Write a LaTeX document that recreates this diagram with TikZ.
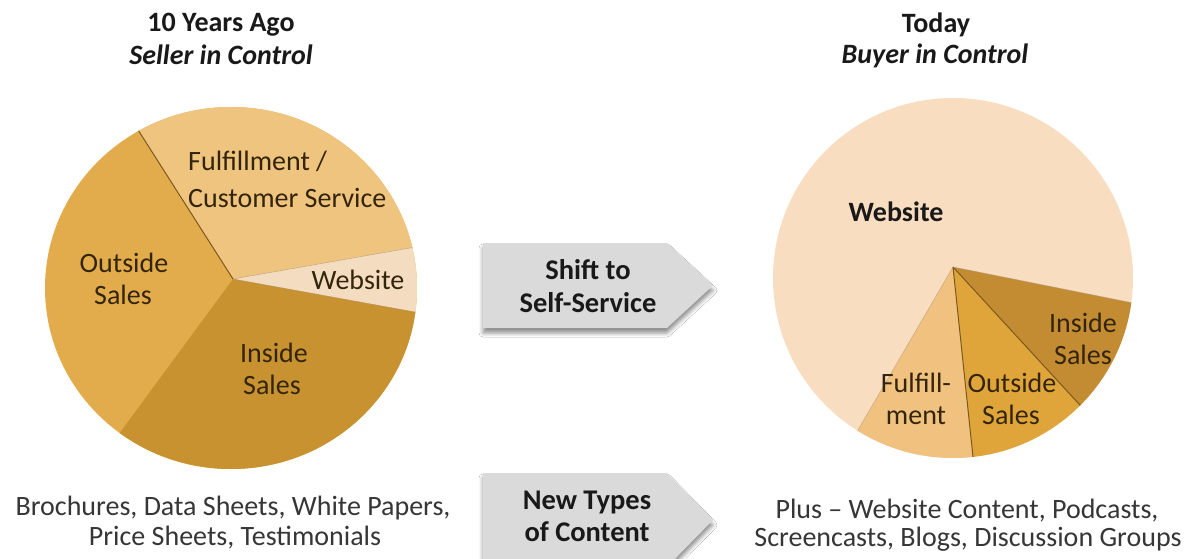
\documentclass[tikz,border=0pt]{standalone}
\usepackage{fontspec}
\setmainfont{Carlito}
\usetikzlibrary{shadows.blur}
\definecolor{lOut}{HTML}{E2AC4C}
\definecolor{lFul}{HTML}{EFC47F}
\definecolor{lWeb}{HTML}{F4DCC0}
\definecolor{lIns}{HTML}{C7922F}
\definecolor{rWeb}{HTML}{F9DDC0}
\definecolor{rFul}{HTML}{F0C17F}
\definecolor{rOut}{HTML}{E0A53A}
\definecolor{rIns}{HTML}{C38B32}
\definecolor{labelc}{HTML}{33250C}
\definecolor{bodyc}{HTML}{363636}
\definecolor{arrowgray}{HTML}{DADADA}
\definecolor{edgec}{HTML}{7A5A20}
\begin{document}
\begin{tikzpicture}[x=1pt,y=-1pt,
  txt/.style={inner sep=0pt, anchor=base, font=\fontsize{28}{32}\selectfont},
  titletxt/.style={txt, text=black!90, font=\fontsize{28}{32}\selectfont\bfseries},
  titleit/.style={titletxt, font=\fontsize{28}{32}\selectfont\bfseries\itshape},
  pielbl/.style={txt, text=labelc},
  bodytxt/.style={txt, text=bodyc},
  arrowtxt/.style={txt, text=black!90, font=\fontsize{28.5}{32}\selectfont\bfseries},
  arrowbox/.style={fill=arrowgray, blur shadow={shadow xshift=0pt, shadow yshift=-5pt, shadow blur radius=4pt, shadow opacity=45}},
  sliceedge/.style={draw=edgec, line width=1pt},
  softedge/.style={draw=edgec!60, line width=0.6pt, opacity=0.6}]
\useasboundingbox (0,0) rectangle (1188,559);
\fill[white] (0,0) rectangle (1188,559);

% titles
\node[titletxt] (t1) at (221,32) {10 Years Ago};
\node[titleit] (t2) at (221,65) {Seller in Control};
\node[titletxt] (t3) at (936,33) {Today};
\node[titleit] (t4) at (935,64) {Buyer in Control};

% left pie
\coordinate (LC) at (231,288);
\coordinate (LA) at (233,279);
\fill[lOut] (LC) ellipse [x radius=186, y radius=181];
\begin{scope}
  \clip (LC) ellipse [x radius=186, y radius=181];
  \fill[lFul] (LA) -- (-139,-305) -- (941,-305) -- (941,155) -- cycle;
  \fill[lWeb] (LA) -- (941,155) -- (961,411) -- cycle;
  \fill[lIns] (LA) -- (961,411) -- (961,900) -- (-191,900) -- (-191,855) -- cycle;
  \draw[sliceedge] (LA) -- (-139,-305);
  \draw[softedge] (LA) -- (941,155);
  \draw[softedge] (LA) -- (961,411);
\end{scope}
\node[pielbl, anchor=base west] (l1) at (188,170) {Fulfillment /};
\node[pielbl, anchor=base west] (l2) at (188,207) {Customer Service};
\node[pielbl] (l3) at (124,272) {Outside};
\node[pielbl] (l4) at (123,304) {Sales};
\node[pielbl] (l5) at (358,289) {Website};
\node[pielbl] (l6) at (274,362) {Inside};
\node[pielbl] (l7) at (272,394) {Sales};

% right pie
\coordinate (RC) at (953,278);
\coordinate (RA) at (953,267);
\fill[rWeb] (RC) ellipse [x radius=180, y radius=180];
\begin{scope}
  \clip (RC) ellipse [x radius=180, y radius=180];
  \fill[rFul] (RA) -- (573,919) -- (1033,1027) -- cycle;
  \fill[rOut] (RA) -- (1033,1027) -- (1453,811) -- cycle;
  \fill[rIns] (RA) -- (1453,811) -- (1673,411) -- cycle;
  \draw[softedge] (RA) -- (573,919);
  \draw[sliceedge] (RA) -- (1033,1027);
  \draw[sliceedge] (RA) -- (1453,811);
  \draw[softedge] (RA) -- (1673,411);
\end{scope}
\node[txt, text=black!90, font=\fontsize{28}{32}\selectfont\bfseries] (r1) at (896,221) {Website};
\node[pielbl] (r2) at (1083,332) {Inside};
\node[pielbl] (r3) at (1083,364) {Sales};
\node[pielbl] (r4) at (916,392) {Fulfill-};
\node[pielbl] (r5) at (916,424) {ment};
\node[pielbl] (r6) at (1012,392) {Outside};
\node[pielbl] (r7) at (1011,424) {Sales};

% arrows
\path[arrowbox] (483,243) -- (667,243) -- (713,285.5) -- (667,328) -- (483,328) -- cycle;
\node[arrowtxt] (a1) at (588,279) {Shift to};
\node[arrowtxt] (a2) at (588,312) {Self-Service};
\path[arrowbox] (483,473) -- (667,473) -- (713,520) -- (667,567) -- (483,567) -- cycle;
\node[arrowtxt] (a3) at (587,509) {New Types};
\node[arrowtxt] (a4) at (587,541) {of Content};

% bottom texts
\node[bodytxt] (b1) at (233,515) {Brochures, Data Sheets, White Papers,};
\node[bodytxt] (b2) at (235,545) {Price Sheets, Testimonials};
\node[bodytxt] (b3) at (967,518) {Plus -- Website Content, Podcasts,};
\node[bodytxt] (b4) at (968,546) {Screencasts, Blogs, Discussion Groups};
\end{tikzpicture}
\end{document}
